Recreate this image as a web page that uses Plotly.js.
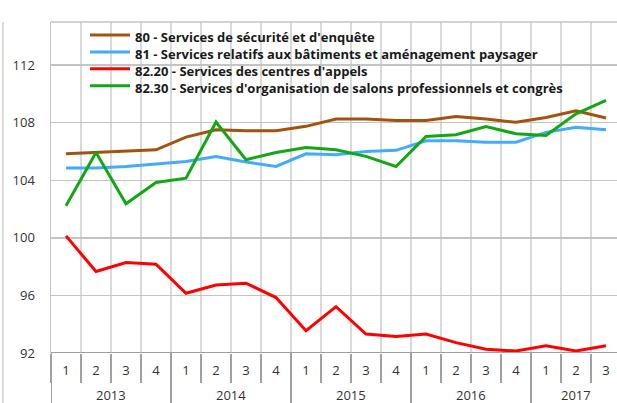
<!DOCTYPE html>
<html>
<head>
<meta charset="utf-8">
<script src="https://cdn.plot.ly/plotly-3.0.1.min.js"></script>
<style>html,body{margin:0;padding:0;background:#fff;}#chart{width:617px;height:403px;}</style>
</head>
<body>
<div id="chart"></div>
<script>
const quarters = ["1","2","3","4","1","2","3","4","1","2","3","4","1","2","3","4","1","2","3"];
const years = ["2013","2014","2015","2016","2017"];
const yearQuarterCounts = [4,4,4,4,3];
const yTicks = [92,96,100,104,108,112];

const names = [
  "80 - Services de sécurité et d'enquête",
  "81 - Services relatifs aux bâtiments et aménagement paysager",
  "82.20 - Services des centres d'appels",
  "82.30 - Services d'organisation de salons professionnels et congrès"
];
const colors = ["#a5520f", "#42aaff", "#ff0000", "#13a813"];

const s80 = [105.85,105.93,106.0,106.12,107.0,107.51,107.45,107.45,107.75,108.26,108.26,108.15,108.15,108.44,108.26,108.03,108.37,108.83,108.33];
const s81 = [104.85,104.85,104.96,105.15,105.31,105.66,105.27,104.96,105.84,105.77,106.0,106.08,106.75,106.75,106.65,106.65,107.33,107.68,107.52];
const s8220 = [100.14,97.66,98.28,98.17,96.15,96.73,96.85,95.85,93.55,95.22,93.32,93.14,93.32,92.72,92.26,92.14,92.51,92.14,92.51];
const s8230 = [102.23,105.93,102.37,103.85,104.15,108.05,105.43,105.93,106.28,106.12,105.66,104.96,107.05,107.17,107.74,107.23,107.12,108.62,109.55];
const series = [s80, s81, s8220, s8230];

const idx = quarters.map((q,i)=>i);
const boundaries = idx.map(i=>i-0.5).concat([idx.length-0.5]);

const traces = series.map((s,k)=>({
  x: idx, y: s, type: 'scatter', mode: 'lines', name: names[k],
  line: {color: colors[k], width: 3}, showlegend:false
}));

const shapes = [];
const annotations = [];
const font = 'Open Sans, sans-serif';

// custom legend: line samples + one multi-line text block
names.forEach((nm,k)=>{
  const yp = 0.9607 - k*0.0511;
  shapes.push({type:'line', xref:'paper', yref:'paper', x0:0.0689, x1:0.1396, y0:yp, y1:yp, line:{color:colors[k], width:3}});
});
annotations.push({xref:'paper', yref:'paper', x:0.1466, y:0.9864, xanchor:'left', yanchor:'top', align:'left',
  showarrow:false, borderpad:0, text:names.join('<br>'),
  font:{family:font, size:13, color:'#1a1a1a', weight:700}});

// year separators and labels
let start = 0;
years.forEach((yr, j)=>{
  const n = yearQuarterCounts[j];
  shapes.push({type:'line', xref:'x', yref:'paper', x0:start-0.5, x1:start-0.5, y0:0, y1:-0.17, line:{color:'#a0a0a0', width:2}});
  annotations.push({xref:'x', yref:'paper', x:start+(n-1)/2, y:-0.097, yanchor:'top', showarrow:false, borderpad:0,
    text:yr, font:{family:font, size:13, color:'#333'}});
  start += n;
});
// top border
shapes.push({type:'line', xref:'paper', yref:'paper', x0:0, x1:1, y0:1, y1:1, line:{color:'#c4c4c4', width:1.5}});
// left edge frame remnant
shapes.push({type:'line', xref:'paper', yref:'paper', x0:-0.085, x1:-0.085, y0:1, y1:-0.17, line:{color:'#d0d0d0', width:1.5}});
// x axis base line
shapes.push({type:'line', xref:'paper', yref:'y', x0:0, x1:1, y0:92, y1:92, line:{color:'#a0a0a0', width:2}});

const layout = {
  width: 617, height: 403,
  margin: {l:51, r:0, t:22, b:50},
  paper_bgcolor:'#fff', plot_bgcolor:'#fff',
  showlegend: false,
  xaxis: {range:[-0.5, 18.367], tickmode:'array', tickvals: idx, ticktext: quarters,
    ticks:'', showgrid:false, zeroline:false, showline:false,
    tickfont:{family:font, size:13, color:'#333'}, ticklabelstandoff:8,
    minor:{tickmode:'array', tickvals: boundaries, ticks:'outside', ticklen:29, tickwidth:2, tickcolor:'#a0a0a0', showgrid:true, gridcolor:'#d9d9d9', gridwidth:1.5},
    fixedrange:true},
  yaxis: {range:[92,115], tickmode:'array', tickvals:yTicks, ticktext:yTicks.map(String),
    showgrid:true, gridcolor:'#c4c4c4', gridwidth:1.5, zeroline:false,
    showline:true, linecolor:'#c4c4c4', linewidth:1.5, ticks:'', ticklabelstandoff:12,
    tickfont:{family:font, size:13, color:'#333'}, fixedrange:true},
  shapes: shapes,
  annotations: annotations
};

Plotly.newPlot('chart', traces, layout, {displayModeBar:false, staticPlot:true});
</script>
</body>
</html>
